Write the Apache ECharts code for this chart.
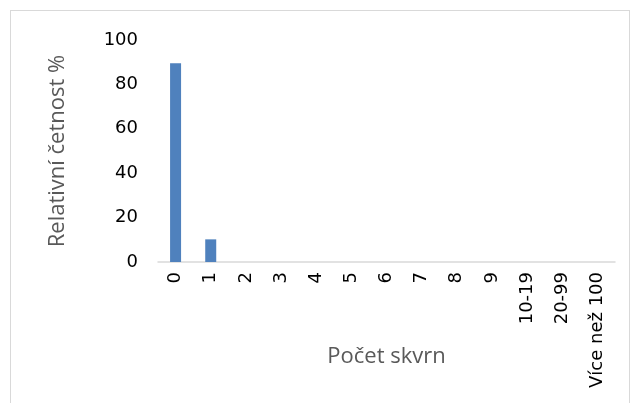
<!DOCTYPE html>
<html>
<head>
<meta charset="utf-8">
<script src="https://cdn.jsdelivr.net/npm/echarts@6/dist/echarts.min.js"></script>
<style>
  body { margin: 0; background: #fff; }
  #frame { position: absolute; left: 10px; top: 10px; width: 620px; height: 400px; border: 1px solid #d9d9d9; box-sizing: border-box; }
  #chart { position: absolute; left: 0; top: 0; width: 641px; height: 403px; }
</style>
</head>
<body>
<div id="frame"></div>
<div id="chart"></div>
<script>
// pocet skvrn -> relativni cetnost
var categories = ['0', '1', '2', '3', '4', '5', '6', '7', '8', '9', '10-19', '20-99', 'Více než 100'];
var values = [89.5, 10.2, 0, 0, 0, 0, 0, 0, 0, 0, 0, 0, 0];
var yTicks = [0, 20, 40, 60, 80, 100];

var myChart = echarts.init(document.getElementById('chart'));
var option = {
  animation: false,
  grid: { left: 158, right: 26, top: 40, bottom: 141, outerBoundsMode: 'none' },
  xAxis: {
    type: 'category',
    data: categories,
    name: 'Počet skvrn',
    nameLocation: 'middle',
    nameGap: 84,
    nameMoveOverlap: false,
    nameTextStyle: { fontFamily: 'Open Sans', fontSize: 22, color: '#595959' },
    axisLine: { lineStyle: { color: '#d9d9d9', width: 1.5 } },
    axisTick: { show: false },
    axisLabel: {
      rotate: 90, interval: 0, margin: 10,
      fontFamily: 'DejaVu Sans', fontSize: 18, color: '#000'
    }
  },
  yAxis: {
    type: 'value',
    min: yTicks[0], max: yTicks[yTicks.length - 1], interval: 20,
    name: 'Relativní četnost %',
    nameLocation: 'middle',
    nameGap: 89,
    nameMoveOverlap: false,
    nameTextStyle: { fontFamily: 'Open Sans', fontSize: 22, color: '#595959' },
    axisLine: { show: false },
    axisTick: { show: false },
    splitLine: { show: false },
    axisLabel: { margin: 20, fontFamily: 'DejaVu Sans', fontSize: 18, color: '#000' }
  },
  series: [{
    type: 'bar',
    data: values,
    barWidth: 11,
    itemStyle: { color: '#4f81bd' }
  }]
};
option && myChart.setOption(option);
</script>
</body>
</html>
